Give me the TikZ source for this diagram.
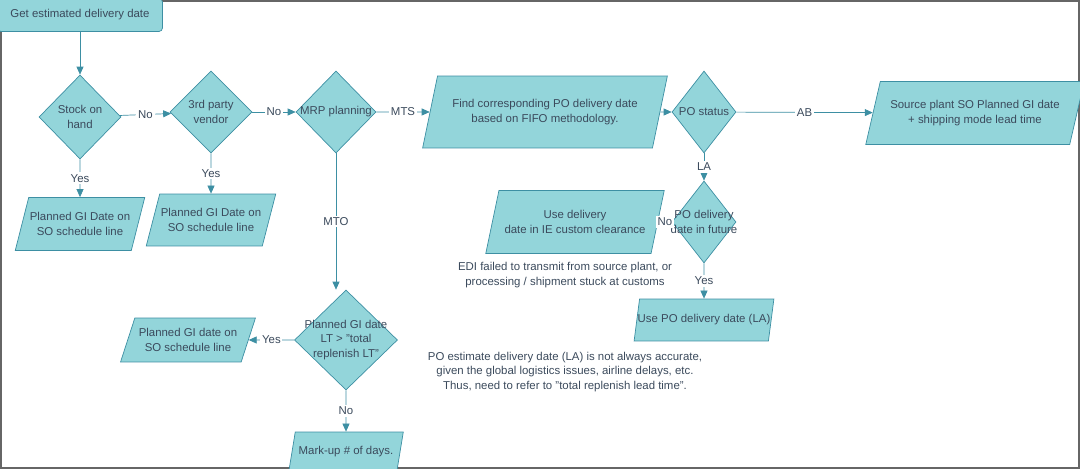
\documentclass[tikz,border=0pt]{standalone}
\usepackage{fontspec}
\setmainfont{Liberation Sans}
\usetikzlibrary{arrows.meta,shapes.geometric,positioning}
\definecolor{boxfill}{HTML}{93D5DA}
\definecolor{boxline}{HTML}{3D8FA3}
\definecolor{txt}{HTML}{3B4A5C}
\begin{document}
\begin{tikzpicture}
[x=0.02cm, y=-0.02cm, font=\fontsize{6.5}{8.5}\selectfont, text=txt,
dec/.style={diamond, draw=boxline, fill=boxfill, inner sep=-7pt, align=center},
io/.style={trapezium, trapezium left angle=66, trapezium right angle=114, trapezium stretches=true, draw=boxline, fill=boxfill, inner xsep=-6pt, inner ysep=0pt, align=center},
lbl/.style={fill=white, inner sep=1pt},
flow/.style={draw=boxline, -{Triangle[length=1.6mm,width=1.4mm]}}
]
\useasboundingbox (0,0) rectangle (1080,469);
\draw[line width=2pt, black!60] (0,0) rectangle (1080,469);

\node[draw=boxline, fill=boxfill, rounded corners=2pt, minimum width=3.3cm, minimum height=0.66cm] (start) at (80,15) {Get estimated delivery date};

\node[dec, minimum width=1.64cm, minimum height=1.68cm] (stock) at (80,117) {Stock on\\hand};
\node[dec, minimum width=1.64cm, minimum height=1.64cm] (vendor) at (211,112) {3rd party\\vendor};
\node[dec, minimum width=1.6cm, minimum height=1.64cm] (mrp) at (336,112) {MRP planning};
\node[io, minimum width=4.9cm, minimum height=1.44cm] (fifo) at (545,112) {Find corresponding PO delivery date\\based on FIFO methodology.};
\node[dec, minimum width=1.28cm, minimum height=1.64cm] (status) at (704,112) {PO status};
\node[io, minimum width=4.4cm, minimum height=1.26cm] (source) at (975,113) {Source plant SO Planned GI date\\+ shipping mode lead time};
\node[dec, minimum width=1.28cm, minimum height=1.64cm] (future) at (704,222) {PO delivery\\date in future};
\node[io, minimum width=3.6cm, minimum height=1.26cm] (customs) at (575,222) {Use delivery\\date in IE custom clearance};
\node[align=center] (edi) at (565,275) {EDI failed to transmit from source plant, or\\processing / shipment stuck at customs};
\node[io, minimum width=2.8cm, minimum height=0.84cm] (usela) at (704,320) {Use PO delivery date (LA)};
\node[align=center] (note) at (565,372) {PO estimate delivery date (LA) is not always accurate,\\given the global logistics issues, airline delays, etc.\\Thus, need to refer to "total replenish lead time".};

\node[io, minimum width=2.6cm, minimum height=1.06cm] (gi1) at (80,224) {Planned GI Date on\\SO schedule line};
\node[io, minimum width=2.6cm, minimum height=1.04cm] (gi2) at (211,220) {Planned GI Date on\\SO schedule line};
\node[dec, minimum width=2.06cm, minimum height=2.0cm] (replenish) at (346,340) {Planned GI date\\LT > "total\\replenish LT"};
\node[io, minimum width=2.7cm, minimum height=0.88cm] (gi3) at (188,340) {Planned GI date on\\SO schedule line};
\node[io, minimum width=2.3cm, minimum height=0.8cm] (markup) at (346,452) {Mark-up \# of days.};

\draw[flow] (start) -- (stock);
\draw[flow] (stock) -- node[lbl] {No} (vendor);
\draw[flow] (vendor) -- node[lbl] {No} (mrp);
\draw[flow] (mrp) -- node[lbl] {MTS} (fifo);
\draw[flow] (fifo) -- (status);
\draw[flow] (status) -- node[lbl] {AB} (source);
\draw[flow] (status) -- node[lbl] {LA} (future);
\draw[flow] (future) -- node[lbl] {No} (customs);
\draw[flow] (future) -- node[lbl] {Yes} (usela);
\draw[flow] (stock) -- node[lbl] {Yes} (gi1);
\draw[flow] (vendor) -- node[lbl] {Yes} (gi2);
\draw[flow] (mrp.south) -- node[lbl] {MTO} (mrp.south |- replenish.north);
\draw[flow] (replenish) -- node[lbl] {Yes} (gi3);
\draw[flow] (replenish) -- node[lbl] {No} (markup);
\end{tikzpicture}
\end{document}
